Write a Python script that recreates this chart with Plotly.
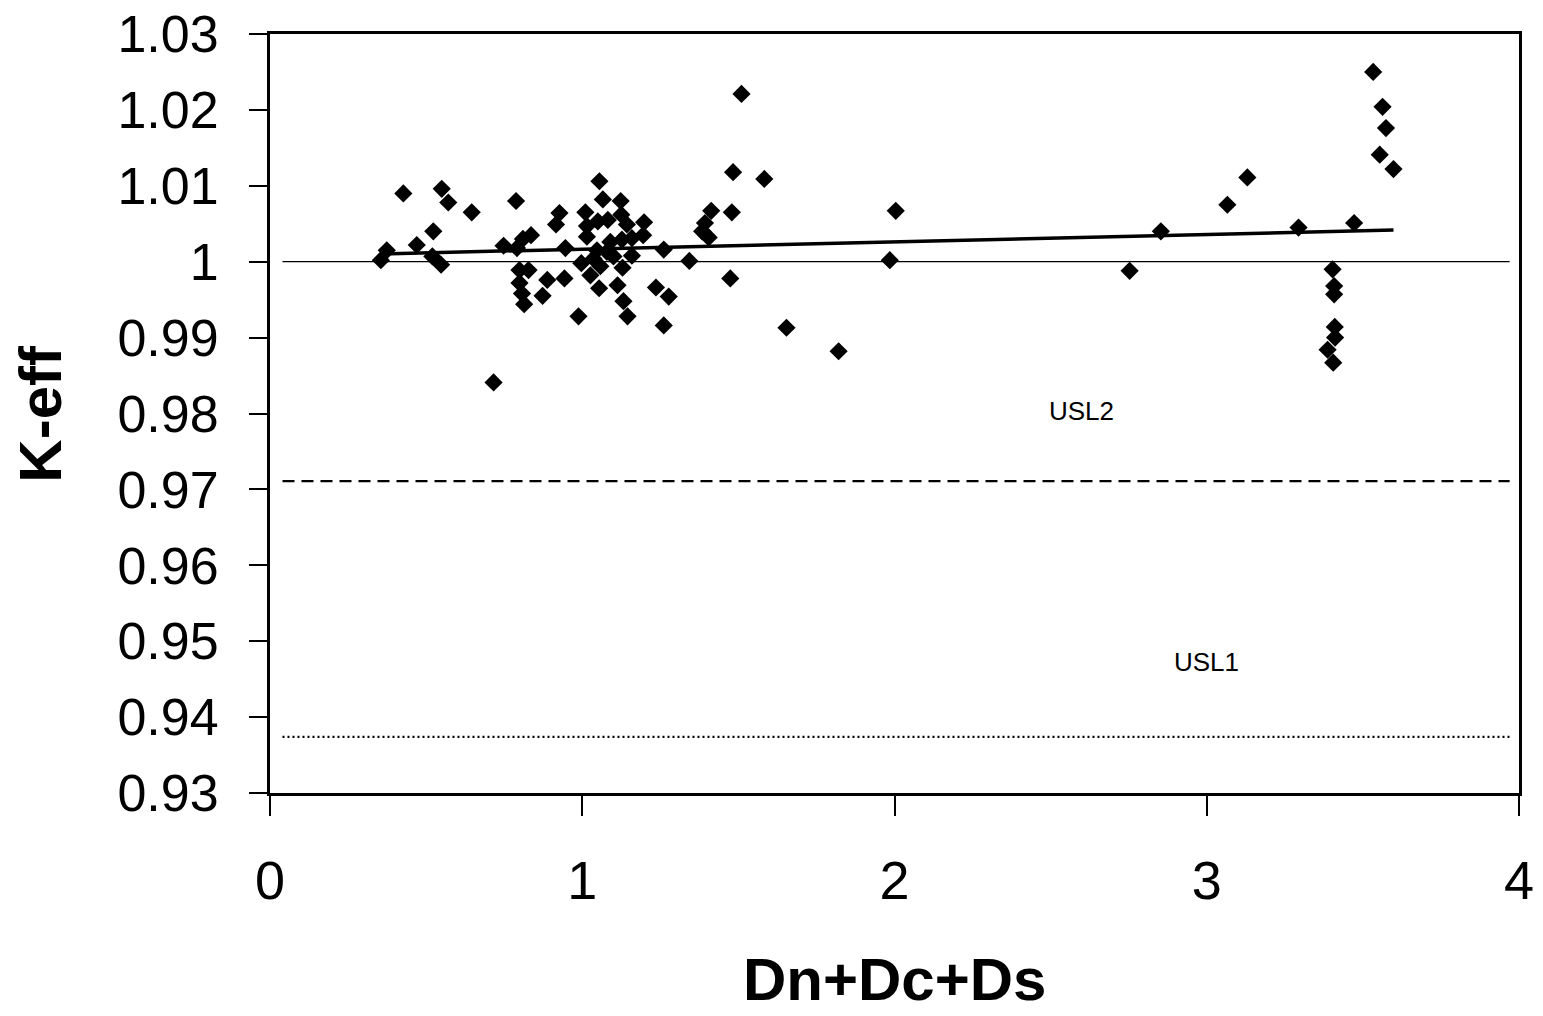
import numpy as np
import plotly.graph_objects as go

# Data
x_vals = [0.427, 0.550, 0.571, 0.646, 0.788, 0.523, 0.470, 0.374, 0.355, 0.520,
          0.548, 0.748, 0.791, 0.810, 0.836, 0.927, 0.916, 0.946, 0.799, 0.828,
          0.799, 0.807, 0.814, 0.873, 0.888, 0.943, 0.988, 0.716, 1.010, 1.015,
          1.015, 0.997, 1.026, 1.054, 1.055, 1.066, 1.123, 1.125, 1.082, 1.050,
          1.143, 1.198, 1.195, 1.159, 1.127, 1.090, 1.047, 1.079, 1.036, 1.100,
          1.159, 1.058, 1.129, 1.113, 1.132, 1.145, 1.261, 1.236, 1.277, 1.261,
          1.343, 1.413, 1.393, 1.384, 1.405, 1.483, 1.583, 1.479, 1.474, 1.654,
          1.510, 1.821, 1.985, 2.004, 3.533, 3.563, 3.574, 3.554, 3.598, 3.130,
          3.066, 2.853, 3.294, 3.472, 2.753, 3.403, 3.408, 3.408, 3.410, 3.411,
          3.387, 3.405]
k_eff = [1.0090, 1.0096, 1.0078, 1.0065, 1.0080, 1.0040, 1.0022, 1.0015, 1.0002, 1.0007,
         0.9996, 1.0021, 1.0018, 1.0030, 1.0035, 1.0064, 1.0049, 1.0018, 0.9989, 0.9989,
         0.9972, 0.9958, 0.9944, 0.9955, 0.9976, 0.9978, 0.9928, 0.9841, 1.0065, 1.0047,
         1.0033, 0.9998, 0.9982, 0.9965, 1.0106, 1.0082, 1.0080, 1.0062, 1.0055, 1.0053,
         1.0049, 1.0052, 1.0035, 1.0031, 1.0029, 1.0026, 1.0015, 1.0013, 1.0004, 1.0007,
         1.0008, 0.9994, 0.9992, 0.9969, 0.9948, 0.9928, 1.0016, 0.9966, 0.9954, 0.9916,
         1.0001, 1.0067, 1.0051, 1.0040, 1.0032, 1.0118, 1.0109, 1.0065, 0.9978, 0.9913,
         1.0221, 0.9882, 1.0002, 1.0067, 1.0250, 1.0204, 1.0176, 1.0141, 1.0122, 1.0111,
         1.0075, 1.0040, 1.0045, 1.0051, 0.9988, 0.9990, 0.9968, 0.9957, 0.9914, 0.9900,
         0.9884, 0.9867]

ref_x = [0.04, 3.97]
unity = 1.0
usl2 = 0.9711
usl1 = 0.9374
usl2_label_pos = (2.6, 0.9803)
usl1_label_pos = (3.0, 0.9473)

x_ticks = [0, 1, 2, 3, 4]
y_ticks = [0.93, 0.94, 0.95, 0.96, 0.97, 0.98, 0.99, 1.0, 1.01, 1.02, 1.03]
y_tick_text = ["0.93", "0.94", "0.95", "0.96", "0.97", "0.98", "0.99", "1", "1.01", "1.02", "1.03"]

# Linear trend line
slope, intercept = np.polyfit(x_vals, k_eff, 1)
tx = np.array([min(x_vals), max(x_vals)])
ty = intercept + slope * tx

fig = go.Figure()
fig.add_trace(go.Scatter(x=ref_x, y=[unity, unity], mode="lines",
                         line=dict(color="black", width=1.3), showlegend=False))
fig.add_trace(go.Scatter(x=ref_x, y=[usl2, usl2], mode="lines",
                         line=dict(color="black", width=2.2, dash="12px,7px"), showlegend=False))
fig.add_trace(go.Scatter(x=ref_x, y=[usl1, usl1], mode="lines",
                         line=dict(color="black", width=2.2, dash="2px,3px"), showlegend=False))
fig.add_trace(go.Scatter(x=tx, y=ty, mode="lines",
                         line=dict(color="black", width=3.5), showlegend=False))
fig.add_trace(go.Scatter(x=x_vals, y=k_eff, mode="markers",
                         marker=dict(symbol="diamond", size=14, color="black"),
                         showlegend=False))

fig.add_annotation(x=usl2_label_pos[0], y=usl2_label_pos[1], text="USL2", showarrow=False,
                   font=dict(family="Liberation Sans, Arial", size=26, color="black"))
fig.add_annotation(x=usl1_label_pos[0], y=usl1_label_pos[1], text="USL1", showarrow=False,
                   font=dict(family="Liberation Sans, Arial", size=26, color="black"))

fig.add_annotation(xref="paper", yref="paper", x=-0.184, y=0.5, text="<b>K-eff</b>",
                   textangle=-90, showarrow=False, xanchor="center", yanchor="middle",
                   font=dict(family="Liberation Sans, Arial", size=60, color="black"))
fig.add_annotation(xref="paper", yref="paper", x=0.5, y=-0.246, text="<b>Dn+Dc+Ds</b>",
                   showarrow=False, xanchor="center", yanchor="middle",
                   font=dict(family="Liberation Sans, Arial", size=60, color="black"))

fig.update_layout(
    width=1543, height=1016,
    margin=dict(l=270, r=24, t=34, b=223),
    paper_bgcolor="white", plot_bgcolor="white",
    xaxis=dict(range=[0, 4], tickvals=x_ticks, ticks="outside", ticklen=20, tickwidth=2,
               tickcolor="black", showgrid=False, zeroline=False, showline=True,
               linecolor="black", linewidth=3, mirror=True, ticklabelstandoff=18,
               automargin=False,
               tickfont=dict(family="Liberation Sans, Arial", size=54, color="black")),
    yaxis=dict(range=[0.93, 1.03], tickvals=y_ticks, ticktext=y_tick_text, ticks="outside",
               ticklen=18, tickwidth=2, tickcolor="black", showgrid=False, zeroline=False,
               showline=True, linecolor="black", linewidth=3, mirror=True, ticklabelstandoff=20,
               automargin=False,
               tickfont=dict(family="Liberation Sans, Arial", size=52, color="black")),
)

fig.write_html("out.html")
